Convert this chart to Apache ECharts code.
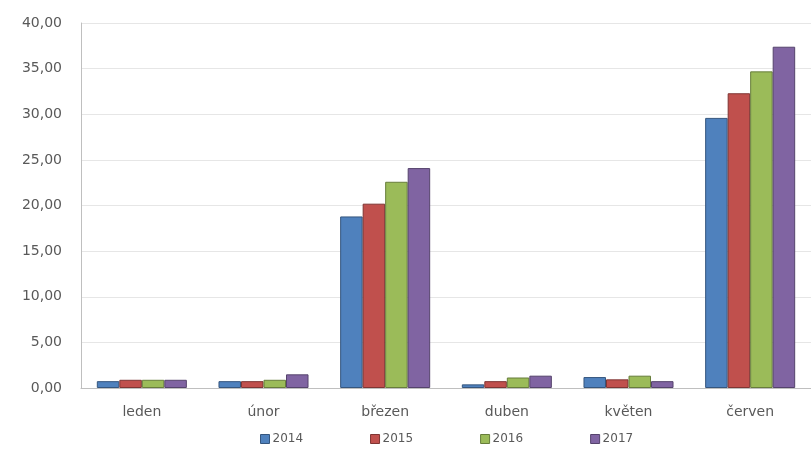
<!DOCTYPE html>
<html>
<head>
<meta charset="utf-8">
<script src="https://cdn.jsdelivr.net/npm/echarts@6/dist/echarts.min.js"></script>
<style>
  html, body { margin: 0; padding: 0; background: #ffffff; }
  #chart { width: 811px; height: 449px; }
</style>
</head>
<body>
<div id="chart"></div>
<script>
// Monthly values per year
const months = ['leden', 'únor', 'březen', 'duben', 'květen', 'červen'];
const years = ['2014', '2015', '2016', '2017'];
const values2014 = [0.75, 0.75, 18.8, 0.4, 1.2, 29.6];
const values2015 = [0.9, 0.75, 20.2, 0.75, 0.95, 32.3];
const values2016 = [0.9, 0.9, 22.6, 1.15, 1.35, 34.7];
const values2017 = [0.9, 1.5, 24.1, 1.35, 0.75, 37.4];
const yTicks = [0, 5, 10, 15, 20, 25, 30, 35, 40];

const seriesValues = [values2014, values2015, values2016, values2017];
const colors = ['#4f81bd', '#c0504d', '#9bbb59', '#8064a2'];
const borders = ['#35567e', '#7f3533', '#677d3b', '#55436c'];
const font = 'DejaVu Sans';

const chart = echarts.init(document.getElementById('chart'));
chart.setOption({
  animation: false,
  backgroundColor: '#ffffff',
  textStyle: { fontFamily: font },
  grid: { left: 81, top: 23, width: 738, bottom: 61, containLabel: false },
  legend: {
    top: 428,
    left: 255,
    itemWidth: 9,
    itemHeight: 9,
    itemGap: 67,
    icon: 'rect',
    textStyle: { fontSize: 12, color: '#595959', fontFamily: font, padding: [0, 0, 0, -2] },
    data: years.map((y, i) => ({ name: y, itemStyle: { color: colors[i], borderColor: borders[i], borderWidth: 1 } }))
  },
  xAxis: {
    type: 'category',
    data: months,
    axisLine: { lineStyle: { color: '#bfbfbf', width: 1 } },
    axisTick: { show: false },
    axisLabel: { color: '#595959', fontSize: 14, margin: 17, fontFamily: font }
  },
  yAxis: {
    type: 'value',
    min: yTicks[0],
    max: yTicks[yTicks.length - 1],
    interval: 5,
    axisLine: { show: true, lineStyle: { color: '#bfbfbf', width: 1 } },
    axisTick: { show: false },
    splitLine: { lineStyle: { color: '#e6e6e6', width: 1 } },
    axisLabel: {
      color: '#595959',
      fontSize: 14,
      margin: 19,
      fontFamily: font,
      formatter: v => v.toFixed(2).replace('.', ',')
    }
  },
  series: years.map((y, i) => ({
    name: y,
    type: 'bar',
    data: seriesValues[i],
    barGap: '0%',
    barCategoryGap: '26%',
    itemStyle: { color: colors[i], borderColor: borders[i], borderWidth: 1 }
  }))
});
</script>
</body>
</html>
